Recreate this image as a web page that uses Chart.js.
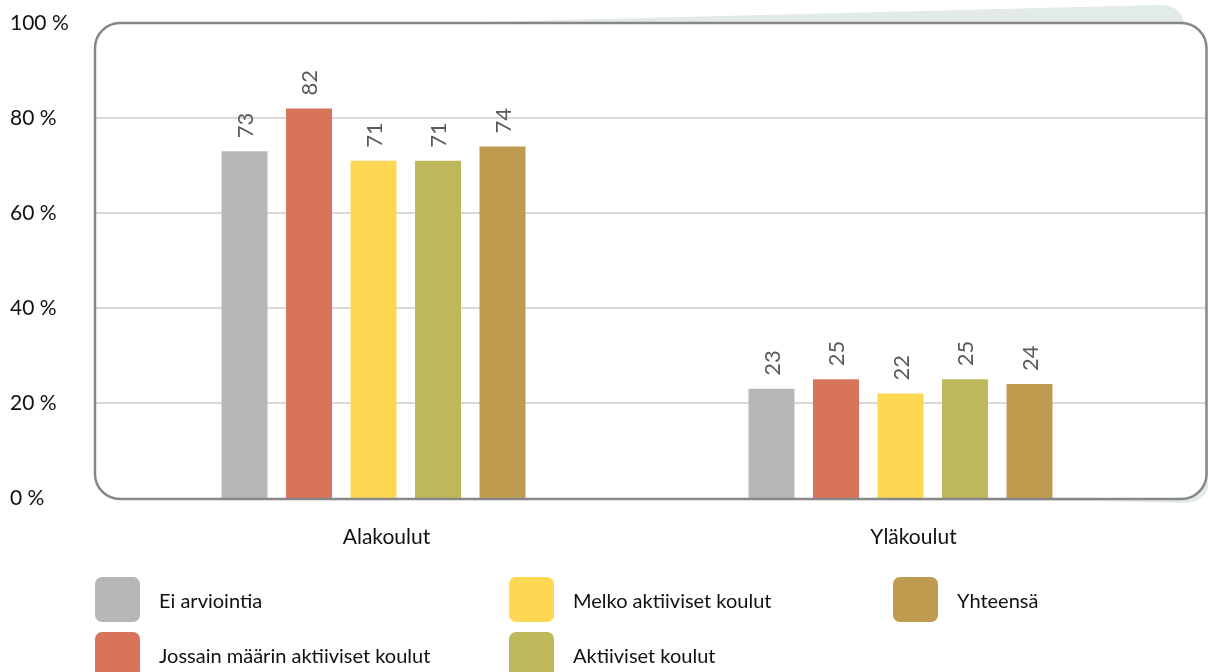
<!DOCTYPE html>
<html>
<head>
<meta charset="utf-8">
<script src="https://cdn.jsdelivr.net/npm/chart.js@4.4.1/dist/chart.umd.min.js"></script>
<style>
  html, body { margin: 0; padding: 0; background: #fff; }
  #wrap { width: 1208px; height: 672px; }
</style>
</head>
<body>
<div id="wrap"><canvas id="chart" width="1208" height="672"></canvas></div>
<script>
// ---------- data ----------
const categories = ['Alakoulut', 'Yläkoulut'];
const seriesNames = ['Ei arviointia', 'Jossain määrin aktiiviset koulut', 'Melko aktiiviset koulut', 'Aktiiviset koulut', 'Yhteensä'];
const eiArviointia = [73, 23];
const jossainMaarin = [82, 25];
const melkoAktiiviset = [71, 22];
const aktiiviset = [71, 25];
const yhteensa = [74, 24];
const seriesColors = ['#b7b7b7', '#d7745a', '#fed853', '#bdb95b', '#bf9b50'];
const yTicks = [0, 20, 40, 60, 80, 100];

const FONT = 'Lato, "Open Sans", sans-serif';
const seriesValues = [eiArviointia, jossainMaarin, melkoAktiiviset, aktiiviset, yhteensa];

// frame around the plot: rounded box with a pale sheet behind it
const boxOf = (chart) => ({
  l: chart.chartArea.left - 15,
  r: chart.width - 1.5,
  t: chart.chartArea.top,
  b: chart.chartArea.bottom + 1
});

const framePlugin = {
  id: 'frame',
  beforeDatasetsDraw(chart) {
    const { ctx, scales: { y } } = chart;
    const b = boxOf(chart);
    ctx.save();
    // sheet behind: sloped top edge, thin lip under the bottom right corner
    ctx.fillStyle = '#e2ebe8';
    ctx.beginPath();
    ctx.moveTo(b.l + 388, b.t - 1);
    ctx.lineTo(b.r - 48, b.t - 18);
    ctx.quadraticCurveTo(b.r - 27, b.t - 19, b.r - 22, b.t);
    ctx.lineTo(b.r - 22, b.b - 60);
    ctx.lineTo(b.r + 4, b.b - 60);
    ctx.lineTo(b.r + 4, b.b - 22);
    ctx.quadraticCurveTo(b.r + 2, b.b + 5, b.r - 26, b.b + 4);
    ctx.lineTo(b.r - 110, b.b + 2);
    ctx.lineTo(b.l + 388, b.b);
    ctx.closePath();
    ctx.fill();
    // white plot face
    ctx.fillStyle = '#fff';
    ctx.beginPath();
    ctx.roundRect(b.l, b.t, b.r - b.l, b.b - b.t, 25);
    ctx.fill();
    // horizontal grid
    ctx.strokeStyle = '#d9d9d9';
    ctx.lineWidth = 2;
    yTicks.slice(1, -1).forEach(v => {
      const py = Math.round(y.getPixelForValue(v));
      ctx.beginPath();
      ctx.moveTo(b.l, py);
      ctx.lineTo(b.r, py);
      ctx.stroke();
    });
    ctx.restore();
  },
  afterDatasetsDraw(chart) {
    const { ctx } = chart;
    const b = boxOf(chart);
    ctx.save();
    // border on top of bar bottoms
    ctx.strokeStyle = '#878787';
    ctx.lineWidth = 2.5;
    ctx.beginPath();
    ctx.roundRect(b.l, b.t, b.r - b.l, b.b - b.t, 25);
    ctx.stroke();
    // rotated value labels
    ctx.fillStyle = '#595959';
    ctx.font = '22px ' + FONT;
    ctx.textAlign = 'left';
    ctx.textBaseline = 'middle';
    chart.data.datasets.forEach((ds, di) => {
      chart.getDatasetMeta(di).data.forEach((bar, i) => {
        ctx.save();
        ctx.translate(bar.x, bar.y - 13);
        ctx.rotate(-Math.PI / 2);
        ctx.fillText(String(ds.data[i]), 0, 1);
        ctx.restore();
      });
    });
    ctx.restore();
  },
  afterDraw(chart) {
    // legend, two rows per column
    const { ctx } = chart;
    const cols = [95, 509, 893];
    const rows = [577, 632];
    ctx.save();
    ctx.font = '20px ' + FONT;
    ctx.textAlign = 'left';
    ctx.textBaseline = 'middle';
    chart.data.datasets.forEach((ds, i) => {
      const x = cols[Math.floor(i / 2)];
      const yy = rows[i % 2];
      ctx.fillStyle = ds.backgroundColor;
      ctx.beginPath();
      ctx.roundRect(x, yy, 45, 45, 7);
      ctx.fill();
      ctx.fillStyle = '#111';
      ctx.fillText(ds.label, x + 64, yy + 25);
    });
    ctx.restore();
  }
};

new Chart(document.getElementById('chart'), {
  type: 'bar',
  data: {
    labels: categories,
    datasets: seriesNames.map((name, i) => ({
      label: name,
      data: seriesValues[i],
      backgroundColor: seriesColors[i],
      categoryPercentage: 0.612,
      barPercentage: 0.713
    }))
  },
  options: {
    responsive: false,
    animation: false,
    layout: { padding: { left: 10, right: 44, top: 23, bottom: 114 } },
    plugins: { legend: { display: false }, tooltip: { enabled: false } },
    scales: {
      x: {
        grid: { display: false },
        border: { display: false },
        ticks: { color: '#111', font: { family: FONT, size: 21 }, padding: 19, labelOffset: 13 },
        afterFit: (s) => { s.height = 60; }
      },
      y: {
        min: 0,
        max: 100,
        grid: { display: false },
        border: { display: false },
        afterBuildTicks: (s) => { s.ticks = yTicks.map(v => ({ value: v })); },
        ticks: {
          color: '#111',
          font: { family: FONT, size: 21 },
          crossAlign: 'far',
          callback: (v) => v + ' %'
        },
        afterFit: (s) => { s.width = 100; }
      }
    }
  },
  plugins: [framePlugin]
});
</script>
</body>
</html>
